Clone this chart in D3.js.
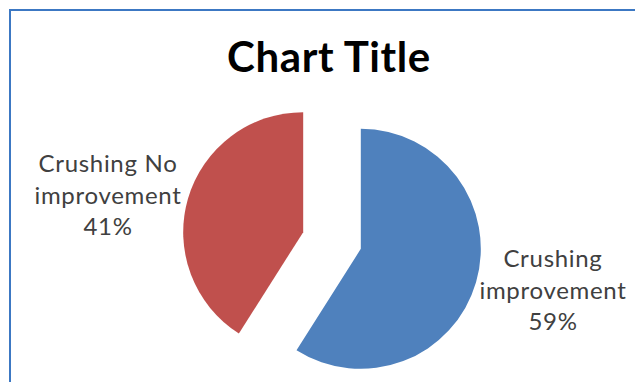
<!DOCTYPE html>
<html>
<head>
<meta charset="utf-8">
<script src="https://cdn.jsdelivr.net/npm/d3@7"></script>
<style>
  html, body { margin: 0; padding: 0; background: #fff; }
  svg { display: block; }
</style>
</head>
<body>
<svg id="chart" width="635" height="382"></svg>
<script>
// Series data
const categories = ["Crushing improvement", "Crushing No improvement"];
const values = [59, 41];
const labelLines = [
  ["Crushing", "improvement", "59%"],
  ["Crushing No", "improvement", "41%"]
];
const colors = ["#4f81bd", "#c0504d"];
const title = "Chart Title";

const svg = d3.select("#chart");
const W = 635, H = 382;

// Chart frame (right and bottom edges run past the view)
svg.append("rect")
  .attr("x", 10).attr("y", 10)
  .attr("width", W + 20).attr("height", H + 20)
  .attr("fill", "#fff")
  .attr("stroke", "#3c78c3")
  .attr("stroke-width", 2);

svg.append("text")
  .attr("x", 329).attr("y", 72)
  .attr("text-anchor", "middle")
  .attr("font-family", "Lato, sans-serif")
  .attr("font-weight", "bold")
  .attr("font-size", 42)
  .attr("letter-spacing", 0.6)
  .attr("fill", "#000")
  .text(title);

const cx = 332, cy = 240.5, r = 120, explode = 30;

const pie = d3.pie().sort(null).value(d => d)
  .startAngle(0).endAngle(2 * Math.PI);
const arcs = pie(values);
const arc = d3.arc().innerRadius(0).outerRadius(r);

const g = svg.append("g").attr("transform", `translate(${cx},${cy})`);

g.selectAll("path.slice")
  .data(arcs)
  .join("path")
  .attr("class", "slice")
  .attr("d", arc)
  .attr("fill", (d, i) => colors[i])
  .attr("transform", d => {
    const a = (d.startAngle + d.endAngle) / 2;
    return `translate(${explode * Math.sin(a)},${-explode * Math.cos(a)})`;
  });

// Data labels placed outside each slice
const labelPos = [
  { x: 553, y: 267 },
  { x: 108, y: 172 }
];
const lineH = 31.5;
labelLines.forEach((lines, i) => {
  const t = svg.append("text")
    .attr("text-anchor", "middle")
    .attr("font-family", "Lato, sans-serif")
    .attr("font-size", 24)
    .attr("letter-spacing", 0.7)
    .attr("fill", "#404040");
  lines.forEach((ln, j) => {
    t.append("tspan")
      .attr("x", labelPos[i].x)
      .attr("y", labelPos[i].y + j * lineH)
      .text(ln);
  });
});
</script>
</body>
</html>
